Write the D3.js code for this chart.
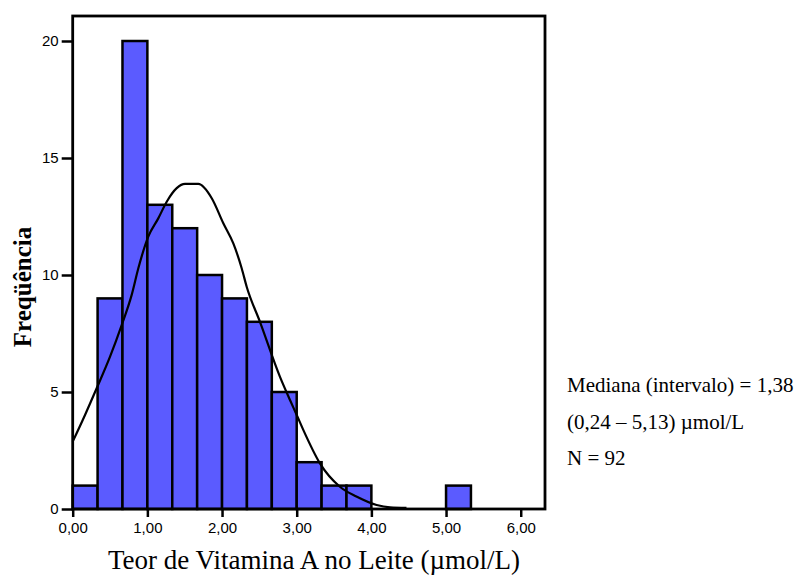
<!DOCTYPE html>
<html><head><meta charset="utf-8">
<script src="https://d3js.org/d3.v7.min.js"></script>
<style>body{margin:0;background:#fff}</style>
</head><body>
<svg id="c" width="798" height="575"></svg>
<script>
const binStarts = [0, 1/3, 2/3, 1, 4/3, 5/3, 2, 7/3, 8/3, 3, 10/3, 11/3, 5];
const binWidth = 1/3;
const counts = [1, 9, 20, 13, 12, 10, 9, 8, 5, 2, 1, 1, 1];
const curveX = [0,0.165,0.321,0.50,0.656,0.79,0.879,1.012,1.146,1.259,1.393,1.504,1.682,1.862,2.017,2.151,2.263,2.33,2.508,2.776,2.91,3.0,3.088,3.311,3.579,3.8,4.07,4.25,4.47];
const curveY = [2.88,4.02,5.16,6.51,7.86,9.15,10.29,11.64,12.42,13.13,13.71,13.89,13.89,13.28,12.21,11.35,10.29,9.5,8.0,5.65,4.66,4.02,3.38,1.95,0.95,0.53,0.17,0.07,0.05];
const xTicks = [0,1,2,3,4,5,6];
const xTickLabels = ["0,00","1,00","2,00","3,00","4,00","5,00","6,00"];
const yTicks = [0,5,10,15,20];
const notes = ["Mediana (intervalo) = 1,38", "(0,24 \u2013 5,13) \u00b5mol/L", "N = 92"];

const svg = d3.select("#c");
const L=72.7, R=545, T=16, B=509;
const x = d3.scaleLinear().domain([0, (R-L)/74.67]).range([L, R]);
const y = d3.scaleLinear().domain([0, (B-T)/23.4]).range([B, T]);

svg.append("g").selectAll("rect").data(counts).join("rect")
  .attr("x", (d,i)=>x(binStarts[i]))
  .attr("y", d=>y(d))
  .attr("width", (d,i)=>x(binStarts[i]+binWidth)-x(binStarts[i]))
  .attr("height", d=>y(0)-y(d))
  .attr("fill", "#5b5bff").attr("stroke", "#000").attr("stroke-width", 2.5);

const line = d3.line().x(d=>x(d[0])).y(d=>y(d[1])).curve(d3.curveMonotoneX);
svg.append("path").datum(curveX.map((v,i)=>[v, curveY[i]]))
  .attr("d", line).attr("fill","none").attr("stroke","#000").attr("stroke-width",2.2);

svg.append("rect").attr("x",L).attr("y",T).attr("width",R-L).attr("height",B-T)
  .attr("fill","none").attr("stroke","#000").attr("stroke-width",2.8);

const xa = svg.append("g").attr("transform",`translate(0,${B})`)
  .call(d3.axisBottom(x).tickValues(xTicks).tickFormat((d,i)=>xTickLabels[i]).tickSize(8).tickPadding(5));
xa.select(".domain").remove();
xa.selectAll("line").attr("stroke-width",2.5);
xa.selectAll("text").attr("font-family","'Liberation Sans', Arial, sans-serif").attr("font-size","15px").attr("fill","#000");

const ya = svg.append("g").attr("transform",`translate(${L},0)`)
  .call(d3.axisLeft(y).tickValues(yTicks).tickFormat(d3.format("d")).tickSize(11).tickPadding(3));
ya.select(".domain").remove();
ya.selectAll("line").attr("stroke-width",2.5);
ya.selectAll("text").attr("font-family","'Liberation Sans', Arial, sans-serif").attr("font-size","15px").attr("fill","#000");

svg.append("text").attr("x",314).attr("y",569).attr("text-anchor","middle")
  .attr("font-family","'Liberation Serif', 'Times New Roman', serif").attr("font-size","27px")
  .text("Teor de Vitamina A no Leite (\u00b5mol/L)");

svg.append("text").attr("transform","translate(31,287) rotate(-90)").attr("text-anchor","middle")
  .attr("font-family","'Liberation Serif', 'Times New Roman', serif").attr("font-size","25px").attr("font-weight","bold")
  .text("Freq\u00fc\u00eancia");

svg.append("g").selectAll("text").data(notes).join("text")
  .attr("x",567).attr("y",(d,i)=>392+i*36.5)
  .attr("font-family","'Liberation Serif', 'Times New Roman', serif").attr("font-size","21px")
  .text(d=>d);
</script>
</body></html>
